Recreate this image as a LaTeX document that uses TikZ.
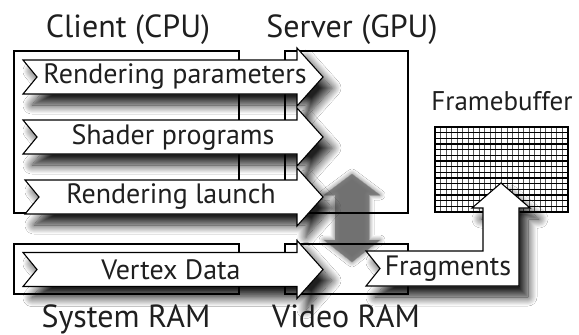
\documentclass[tikz,border=0pt]{standalone}
\usepackage{fontspec}
\setmainfont{PT Sans}
\usetikzlibrary{shadows.blur}

% right-pointing flow arrow: notched tail at x=#1, centre line y=#2, shaft ends at x=#3
\newcommand\flowarrow[3]{(#1,#2-17) -- (#3,#2-17) -- (#3,#2-29) -- (#3+26,#2)
  -- (#3,#2+29) -- (#3,#2+17) -- (#1,#2+17) -- (#1+14,#2) -- cycle}
% bent arrow carrying the fragments up into the framebuffer
\newcommand\fragarrow{(366,251) -- (483,251) -- (483,208) -- (472,208) -- (501,183)
  -- (530,208) -- (519,208) -- (519,286) -- (366,286) -- (380,268.5) -- cycle}

\begin{document}
\begin{tikzpicture}[x=1pt,y=-1pt,
  txt/.style={inner sep=0pt, font=\fontsize{28}{32}\selectfont, text=black!88},
  title/.style={txt, anchor=base, font=\fontsize{32}{36}\selectfont},
  unit/.style={draw=black, line width=1.2pt},
  flowshadow/.style={fill=white, blur shadow={shadow xshift=9pt, shadow yshift=-11pt,
      shadow blur radius=9pt, shadow opacity=88, shadow blur steps=14}},
  flowbody/.style={fill=white, draw=black, line width=1.1pt, line join=miter},
  transfer/.style={fill=black!55, opacity=0.85,
      blur shadow={shadow xshift=0pt, shadow yshift=0pt, shadow blur radius=5pt,
      shadow opacity=60, shadow blur steps=10}}]
\useasboundingbox (0,0) rectangle (579,335);
\fill[white] (0,0) rectangle (579,335);

% data transfer between the GPU and video memory
\path[transfer] (352,174) -- (380,195) -- (369,195) -- (369,240) -- (380,240)
  -- (352,262) -- (324,240) -- (335,240) -- (335,195) -- (324,195) -- cycle;

% framebuffer pixel grid
\foreach \i in {1,...,23} \draw[black!65, line width=0.9pt] (435+\i*5.54,127) -- (435+\i*5.54,212);
\foreach \j in {1,...,14} \draw[black, line width=1.2pt] (435,127+\j*5.67) -- (568,127+\j*5.67);
\draw[black, line width=1.1pt] (435,127) rectangle (568,212);

% shadows of the flow arrows
\path[flowshadow] \flowarrow{23}{77}{297};
\path[flowshadow] \flowarrow{23}{137}{297};
\path[flowshadow] \flowarrow{25}{197}{297};
\path[flowshadow] \flowarrow{23}{269.5}{297};
\path[flowshadow] \fragarrow;

% hardware units
\draw[unit] (14,51) rectangle (239,213);
\draw[unit] (285,51) rectangle (408,213);
\draw[unit] (14,244) rectangle (239,294);
\draw[unit] (285,244) rectangle (408,294);

% flow arrows on top
\draw[flowbody] \flowarrow{23}{77}{297};
\draw[flowbody] \flowarrow{23}{137}{297};
\draw[flowbody] \flowarrow{25}{197}{297};
\draw[flowbody] \flowarrow{23}{269.5}{297};
\draw[flowbody] \fragarrow;

% labels
\node[title] (client) at (128,37) {Client (CPU)};
\node[title] (server) at (352,37) {Server (GPU)};
\node[title] (sysram) at (126,327) {System RAM};
\node[title] (vidram) at (346,327) {Video RAM};
\node[txt, font=\fontsize{27}{31}\selectfont] (fb) at (502,101) {Framebuffer};
\node[txt] (params) at (175,77) {Rendering parameters};
\node[txt] (shader) at (173,137) {Shader programs};
\node[txt] (launch) at (171,197) {Rendering launch};
\node[txt] (vertex) at (171,269.5) {Vertex Data};
\node[txt] (frags) at (448,268.5) {Fragments};
\end{tikzpicture}
\end{document}
